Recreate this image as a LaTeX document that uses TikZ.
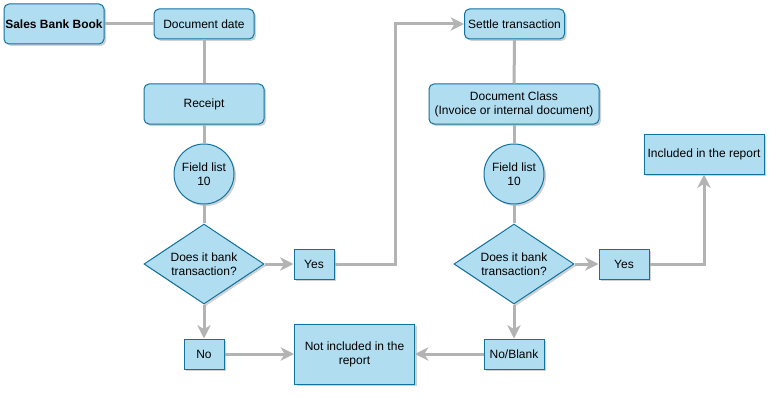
\documentclass[tikz,border=0pt]{standalone}
\usepackage{fontspec}
\setmainfont{Liberation Sans}
\usepackage{xcolor}
\usetikzlibrary{shapes.geometric,arrows.meta,shadows}
\definecolor{boxfill}{HTML}{B1DDF0}
\definecolor{boxline}{HTML}{10739E}
\definecolor{linkgray}{HTML}{B3B3B3}
\begin{document}
\begin{tikzpicture}[x=0.75pt,y=-0.75pt,
    font=\fontsize{9}{10.5}\selectfont,
    box/.style={draw=boxline,fill=boxfill,line width=0.75pt,align=center,inner sep=0pt,
        drop shadow={shadow xshift=1.5pt,shadow yshift=-1.5pt,fill=black,opacity=0.18}},
    roundbox/.style={box,rounded corners=3.75pt},
    fieldlist/.style={box,circle,minimum size=45pt},
    question/.style={box,diamond,aspect=1.5,minimum width=90pt,minimum height=60pt},
    link/.style={draw=linkgray,line width=2.25pt},
    arrow/.style={link,-{Stealth[length=10pt,width=10pt,inset=3pt]}}]
			% 画布
			\useasboundingbox (0,0) rectangle (782,403);
			% 左边一列
			\node[roundbox,minimum width=75pt,minimum height=30pt,font=\fontsize{9}{10.5}\selectfont\bfseries] (sbb) at (54,24) {Sales Bank Book};
			\node[roundbox,minimum width=75pt,minimum height=22.5pt] (docdate) at (204,24) {Document date};
			\node[roundbox,minimum width=90pt,minimum height=30pt] (receipt) at (204,104) {Receipt};
			\node[fieldlist] (field1) at (204,174) {Field list\\10};
			\node[question] (ask1) at (204,264) {Does it bank\\transaction?};
			\node[box,minimum width=30pt,minimum height=22.5pt] (yes1) at (314,264) {Yes};
			\node[box,minimum width=30pt,minimum height=22.5pt] (no1) at (204,354) {No};
			\node[box,minimum width=90pt,minimum height=45pt] (notinc) at (354.5,354) {Not included in the\\report};
			% 右边一列
			\node[roundbox,minimum width=75pt,minimum height=22.5pt] (settle) at (514.5,24) {Settle transaction};
			\node[roundbox,minimum width=127.5pt,minimum height=30pt] (docclass) at (514,104) {Document Class\\(Invoice or internal document)};
			\node[fieldlist] (field2) at (514,174) {Field list\\10};
			\node[question] (ask2) at (514,264) {Does it bank\\transaction?};
			\node[box,minimum width=37.5pt,minimum height=22.5pt] (yes2) at (624,264) {Yes};
			\node[box,minimum width=45pt,minimum height=22.5pt] (noblank) at (514,354) {No/Blank};
			\node[box,minimum width=90pt,minimum height=30pt] (inc) at (704,154) {Included in the report};
			% 转折点
			\coordinate (bend1) at (395,264);
			% 连线
			\draw[link] (sbb) -- (docdate);
			\draw[link] (docdate) -- (receipt);
			\draw[link] (receipt) -- (field1);
			\draw[link] (field1) -- (ask1);
			\draw[arrow] (ask1) -- (yes1);
			\draw[arrow] (ask1) -- (no1);
			\draw[arrow] (no1) -- (notinc);
			\draw[arrow] (yes1.east) -- (bend1) |- (settle.west);
			\draw[link] (settle) -- (docclass);
			\draw[link] (docclass) -- (field2);
			\draw[link] (field2) -- (ask2);
			\draw[arrow] (ask2) -- (yes2);
			\draw[arrow] (ask2) -- (noblank);
			\draw[arrow] (noblank) -- (notinc);
			\draw[arrow] (yes2.east) -| (inc.south);
		\end{tikzpicture}
\end{document}
